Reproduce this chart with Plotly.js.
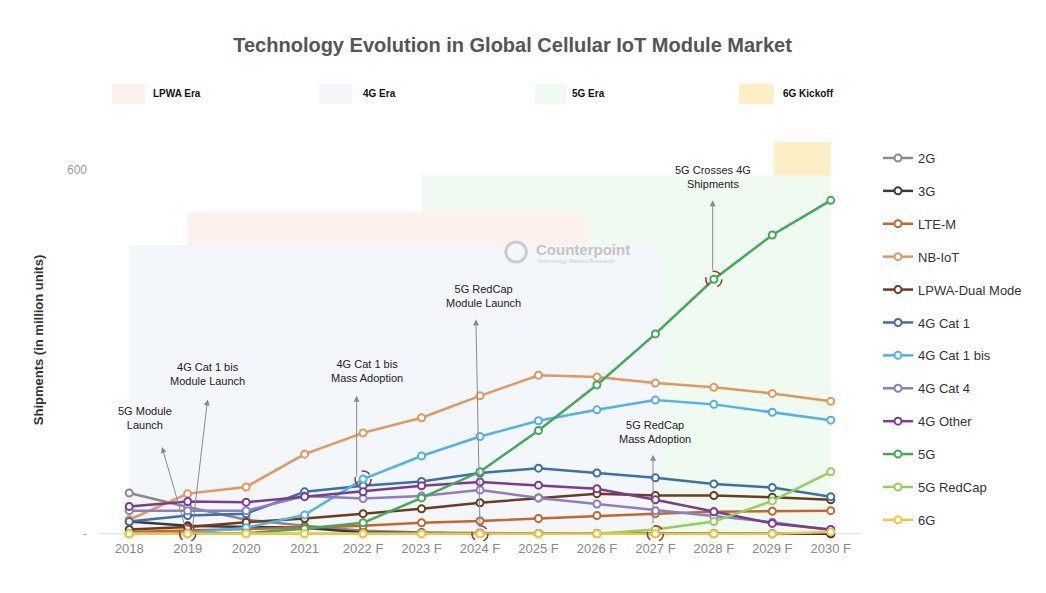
<!DOCTYPE html>
<html>
<head>
<meta charset="utf-8">
<script src="https://cdn.plot.ly/plotly-3.0.1.min.js"></script>
<style>html,body{margin:0;padding:0;background:#fff;}#chart{width:1046px;height:593px;}</style>
</head>
<body>
<div id="chart"></div>
<script>
const years = [2018, 2019, 2020, 2021, 2022, 2023, 2024, 2025, 2026, 2027, 2028, 2029, 2030];
const yearLabels = ['2018', '2019', '2020', '2021', '2022 F', '2023 F', '2024 F', '2025 F', '2026 F', '2027 F', '2028 F', '2029 F', '2030 F'];

const s2G        = [67, 44, 23, 13, 5, 2, 1, 0.5, 0.3, 0.2, 0.1, 0.1, 0];
const s3G        = [20, 13, 11, 10, 2, 1, 0.5, 0.3, 0.2, 0.1, 0.1, 0, 0];
const sLTEM      = [3, 5, 7, 10, 13, 18, 21, 25, 30, 33, 36, 37, 38];
const sNBIoT     = [23, 66, 77, 131, 166, 191, 227, 261, 258, 248, 241, 231, 218];
const sLPWADual  = [7, 11, 19, 25, 33, 41, 51, 59, 66, 63, 63, 60, 56];
const sCat1      = [20, 30, 33, 69, 79, 86, 100, 108, 100, 92, 82, 76, 61];
const sCat1bis   = [0, 1, 10, 31, 90, 128, 160, 186, 204, 220, 213, 200, 187];
const sCat4      = [38, 38, 38, 62, 58, 62, 72, 59, 49, 38, 28, 19, 6];
const s4GOther   = [45, 53, 52, 61, 69, 79, 85, 80, 74, 56, 36, 17, 7];
const s5G        = [0, 0, 1, 8, 18, 59, 102, 170, 245, 329, 419, 492, 549];
const s5GRedCap  = [0, 0, 0, 0, 0, 0, 0, 0, 0, 7, 20, 54, 102];
const s6G        = [0, 0, 0, 0, 0, 0, 0, 0, 0, 0, 0, 0, 3];

const seriesNames = ['2G', '3G', 'LTE-M', 'NB-IoT', 'LPWA-Dual Mode', '4G Cat 1', '4G Cat 1 bis', '4G Cat 4', '4G Other', '5G', '5G RedCap', '6G'];
const seriesValues = [s2G, s3G, sLTEM, sNBIoT, sLPWADual, sCat1, sCat1bis, sCat4, s4GOther, s5G, s5GRedCap, s6G];
const seriesColors = ['#8a8a8a', '#3a3a3a', '#c2672f', '#e3965f', '#6e3b1c', '#3d6fa8', '#52b2e6', '#8b7fbd', '#7a3b94', '#44a856', '#96cc60', '#f2c342'];

const yTickVals = [0, 600];
const yTickText = ['-', '600'];

const eraNames = ['LPWA Era', '4G Era', '5G Era', '6G Kickoff'];
const eraColors = ['#fcf1ec', '#f3f6fb', '#effaf1', '#fcefc6'];

const noteTexts = ['5G Module<br>Launch', '4G Cat 1 bis<br>Module Launch', '4G Cat 1 bis<br>Mass Adoption', '5G RedCap<br>Module Launch', '5G Crosses 4G<br>Shipments', '5G RedCap<br>Mass Adoption'];

const traces = seriesNames.map((n, i) => ({
  type: 'scatter', mode: 'lines+markers', name: n,
  x: years, y: seriesValues[i], legendgroup: 'g' + i,
  line: {color: seriesColors[i], width: 2.5},
  marker: {symbol: 'circle', size: 7, color: '#ffffff', line: {color: seriesColors[i], width: 2}},
  cliponaxis: false
}));

const shapes = [
  {type: 'rect', xref: 'x', yref: 'y', x0: 2023, x1: 2030, y0: 0, y1: 590, fillcolor: eraColors[2], line: {width: 0}, layer: 'below'},
  {type: 'rect', xref: 'x', yref: 'y', x0: 2019, x1: 2025.84, y0: 0, y1: 529, fillcolor: eraColors[0], line: {width: 0}, layer: 'below'},
  {type: 'rect', xref: 'x', yref: 'y', x0: 2018, x1: 2027.08, y0: 0, y1: 475, fillcolor: eraColors[1], line: {width: 0}, layer: 'below'},
  {type: 'rect', xref: 'x', yref: 'y', x0: 2029.03, x1: 2030, y0: 590, y1: 645, fillcolor: eraColors[3], line: {width: 0}, layer: 'below'},
  {type: 'line', xref: 'paper', yref: 'y', x0: 0, x1: 1, y0: 0, y1: 0, line: {color: '#dddddd', width: 1}, layer: 'below'}
];

const eraBoxX = [[0.0158, 0.059], [0.288, 0.332], [0.572, 0.614], [0.841, 0.886]];
eraBoxX.forEach((bx, i) => {
  shapes.push({type: 'rect', xref: 'paper', yref: 'paper', x0: bx[0], x1: bx[1], y0: 1.087, y1: 1.137, fillcolor: eraColors[i], line: {width: 0}});
});

const circ = [[2019, 0], [2022, 90], [2024, 0], [2027, 0], [2028, 419]];
circ.forEach(c => {
  shapes.push({type: 'circle', xref: 'x', yref: 'y', xsizemode: 'pixel', ysizemode: 'pixel',
    xanchor: c[0], yanchor: c[1], x0: -8, x1: 8, y0: -8, y1: 8,
    line: {color: '#a83232', width: 1.5, dash: 'dash'}, layer: 'above'});
});

shapes.push({type: 'circle', xref: 'paper', yref: 'paper', x0: 0.534, x1: 0.561, y0: 0.694, y1: 0.744, line: {color: '#cccccc', width: 3}, layer: 'above'});

const annotations = [];
const eraLabelX = [0.0671, 0.343, 0.618, 0.896];
eraNames.forEach((n, i) => {
  annotations.push({xref: 'paper', yref: 'paper', x: eraLabelX[i], y: 1.112, xanchor: 'left', yanchor: 'middle', showarrow: false,
    text: '<b>' + n + '</b>', font: {size: 10, color: '#111'}});
});

const notePos = [[2018.27, 191], [2019.34, 263], [2022.06, 268], [2024.06, 391], [2027.98, 587], [2027.0, 168]];
noteTexts.forEach((t, i) => {
  annotations.push({xref: 'x', yref: 'y', x: notePos[i][0], y: notePos[i][1], showarrow: false, text: t,
    font: {size: 11, color: '#222'}, align: 'center'});
});

const arrows = [
  [2018.56, 143, 2018.96, 10],
  [2019.34, 221, 2019.08, 8],
  [2021.89, 227, 2021.89, 92],
  [2023.93, 353, 2024.0, 10],
  [2027.98, 549, 2027.98, 432],
  [2026.96, 130, 2026.96, 15]
];
arrows.forEach(a => {
  annotations.push({xref: 'x', yref: 'y', axref: 'x', ayref: 'y', x: a[0], y: a[1], ax: a[2], ay: a[3], text: '',
    showarrow: true, arrowhead: 2, arrowsize: 1.2, arrowwidth: 1, arrowcolor: '#8a8a8a'});
});

annotations.push({xref: 'paper', yref: 'paper', x: 0.571, y: 0.726, xanchor: 'left', yanchor: 'middle', showarrow: false,
  text: '<b>Counterpoint</b>', font: {size: 15, color: '#c4c4c4'}});
annotations.push({xref: 'paper', yref: 'paper', x: 0.573, y: 0.696, xanchor: 'left', yanchor: 'middle', showarrow: false,
  text: 'Technology Market Research', font: {size: 6, color: '#cccccc'}});

const layout = {
  width: 1046, height: 593,
  paper_bgcolor: '#ffffff', plot_bgcolor: '#ffffff',
  font: {family: 'Liberation Sans, Arial, sans-serif', color: '#333'},
  title: {text: '<b>Technology Evolution in Global Cellular IoT Module Market</b>', x: 0.49, xref: 'container', xanchor: 'center', y: 0.924, yref: 'container', yanchor: 'middle',
    font: {size: 20, color: '#555'}},
  margin: {l: 100, r: 186, t: 139, b: 52},
  xaxis: {range: [2017.5, 2030.5], tickvals: years, ticktext: yearLabels, showgrid: false, zeroline: false,
    showline: false, ticks: '', ticklabelstandoff: -2, tickfont: {size: 13, color: '#888'}, fixedrange: true},
  yaxis: {range: [-12, 650], tickvals: yTickVals, ticktext: yTickText, showgrid: false, zeroline: false, showline: false,
    ticks: '', ticklabelstandoff: 12, tickfont: {size: 12, color: '#999'},
    title: {text: '<b>Shipments (in million units)</b>', font: {size: 13, color: '#333'}, standoff: 20}},
  legend: {x: 1.0237, xanchor: 'left', y: 0.99, yanchor: 'top', font: {size: 13, color: '#333'}, tracegroupgap: 13,
    bgcolor: 'rgba(0,0,0,0)', itemwidth: 30},
  showlegend: true,
  shapes: shapes,
  annotations: annotations
};

Plotly.newPlot('chart', traces, layout, {displayModeBar: false, staticPlot: true});
</script>
</body>
</html>
